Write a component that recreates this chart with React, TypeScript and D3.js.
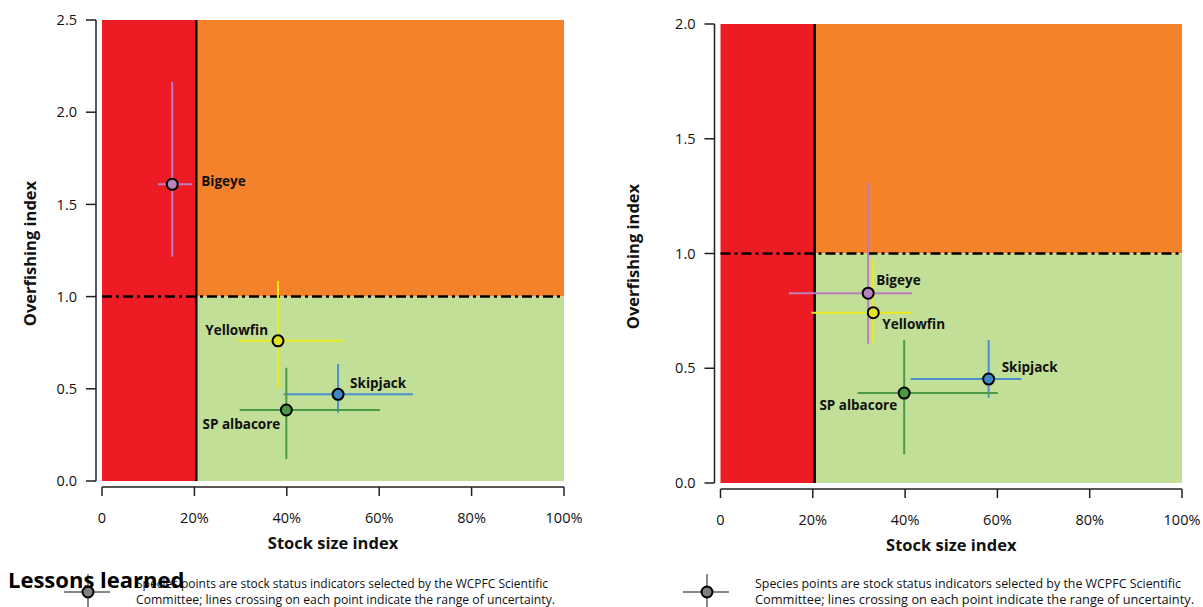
import React from "react";
import * as d3 from "d3";

const species = ["Bigeye", "Yellowfin", "Skipjack", "SP albacore"];
const speciesFill = ["#B784BD", "#E3E31F", "#3F86C9", "#4A9843"];
const speciesLine = ["#C07CBE", "#EDEA1C", "#4A8FD0", "#4C9A44"];

// Left panel
const leftX = [0.152, 0.381, 0.511, 0.399];
const leftY = [1.609, 0.76, 0.47, 0.385];
const leftXLo = [0.121, 0.294, 0.393, 0.298];
const leftXHi = [0.195, 0.522, 0.673, 0.602];
const leftYLo = [1.216, 0.506, 0.37, 0.119];
const leftYHi = [2.164, 1.085, 0.634, 0.614];
const leftYTicks = [0, 0.5, 1.0, 1.5, 2.0, 2.5];

// Right panel
const rightX = [0.32, 0.331, 0.581, 0.398];
const rightY = [0.827, 0.742, 0.453, 0.392];
const rightXLo = [0.148, 0.197, 0.412, 0.297];
const rightXHi = [0.415, 0.415, 0.652, 0.601];
const rightYLo = [0.607, 0.611, 0.372, 0.125];
const rightYHi = [1.31, 0.975, 0.623, 0.623];
const rightYTicks = [0, 0.5, 1.0, 1.5, 2.0];

const xTicks = [0, 0.2, 0.4, 0.6, 0.8, 1.0];
const xTickLabels = ["0", "20%", "40%", "60%", "80%", "100%"];
const limitX = 0.204;
const limitY = 1.0;

const legendLine1 = "Species points are stock status indicators selected by the WCPFC Scientific";
const legendLine2 = "Committee; lines crossing on each point indicate the range of uncertainty.";

const RED = "#ED1C24";
const ORANGE = "#F4822A";
const GREEN = "#C2DF98";
const AXIS = "#231F20";
const FONT = "'Open Sans', 'Noto Sans', sans-serif";

type LabelPos = { dx: number; dy: number; anchor: "start" | "end" };

const leftLabelPos: LabelPos[] = [
  { dx: 29, dy: -3, anchor: "start" },
  { dx: -10, dy: -11, anchor: "end" },
  { dx: 12, dy: -11, anchor: "start" },
  { dx: -6, dy: 14, anchor: "end" },
];
const rightLabelPos: LabelPos[] = [
  { dx: 8, dy: -13, anchor: "start" },
  { dx: 9, dy: 11, anchor: "start" },
  { dx: 13, dy: -12, anchor: "start" },
  { dx: -7, dy: 12, anchor: "end" },
];

type PanelProps = {
  x0: number; x1: number; yTop: number; yBot: number; yMax: number;
  yTicks: number[];
  px: number[]; py: number[]; xlo: number[]; xhi: number[]; ylo: number[]; yhi: number[];
  labels: LabelPos[];
  yTitleX: number; xTitleY: number;
};

function Panel(p: PanelProps) {
  const x = d3.scaleLinear().domain([0, 1]).range([p.x0, p.x1]);
  const y = d3.scaleLinear().domain([0, p.yMax]).range([p.yBot, p.yTop]);
  const yAxisX = p.x0 - 6;
  const xAxisY = p.yBot + 6;
  const fmt = d3.format(".1f");
  return (
    <g>
      <rect x={x(0)} y={y(p.yMax)} width={x(limitX) - x(0)} height={y(0) - y(p.yMax)} fill={RED} />
      <rect x={x(limitX)} y={y(p.yMax)} width={x(1) - x(limitX)} height={y(limitY) - y(p.yMax)} fill={ORANGE} />
      <rect x={x(limitX)} y={y(limitY)} width={x(1) - x(limitX)} height={y(0) - y(limitY)} fill={GREEN} />
      <line x1={x(limitX)} x2={x(limitX)} y1={y(p.yMax)} y2={y(0)} stroke="#000" strokeWidth={2.5} />
      <line x1={x(0)} x2={x(1)} y1={y(limitY)} y2={y(limitY)} stroke="#000" strokeWidth={2.5} strokeDasharray="10,4,3,4" />

      {species.map((s, i) => (
        <g key={s}>
          <line x1={x(p.xlo[i])} x2={x(p.xhi[i])} y1={y(p.py[i])} y2={y(p.py[i])} stroke={speciesLine[i]} strokeWidth={2} />
          <line x1={x(p.px[i])} x2={x(p.px[i])} y1={y(p.ylo[i])} y2={y(p.yhi[i])} stroke={speciesLine[i]} strokeWidth={2} />
        </g>
      ))}
      {species.map((s, i) => (
        <circle key={s} cx={x(p.px[i])} cy={y(p.py[i])} r={5.5} fill={speciesFill[i]} stroke="#000" strokeWidth={2} />
      ))}
      {species.map((s, i) => (
        <text key={s} x={x(p.px[i]) + p.labels[i].dx} y={y(p.py[i]) + p.labels[i].dy} dy="0.36em"
          textAnchor={p.labels[i].anchor} fontFamily={FONT} fontWeight={700} fontSize={13.5} fill="#111">{s}</text>
      ))}

      <line x1={yAxisX} x2={yAxisX} y1={y(p.yMax)} y2={y(0)} stroke={AXIS} strokeWidth={1.5} />
      {p.yTicks.map((t) => (
        <g key={t}>
          <line x1={yAxisX - 10} x2={yAxisX} y1={y(t)} y2={y(t)} stroke={AXIS} strokeWidth={1.5} />
          <text x={yAxisX - 19} y={y(t)} dy="0.36em" textAnchor="end" fontFamily={FONT} fontSize={14.5} fill="#111">{fmt(t)}</text>
        </g>
      ))}
      <line x1={x(0)} x2={x(1)} y1={xAxisY} y2={xAxisY} stroke={AXIS} strokeWidth={1.5} />
      {xTicks.map((t, i) => (
        <g key={t}>
          <line x1={x(t)} x2={x(t)} y1={xAxisY} y2={xAxisY + 9} stroke={AXIS} strokeWidth={1.5} />
          <text x={x(t)} y={xAxisY + 31} dy="0.36em" textAnchor="middle" fontFamily={FONT} fontSize={14.5} fill="#111">{xTickLabels[i]}</text>
        </g>
      ))}
      <text x={(x(0) + x(1)) / 2} y={p.xTitleY} textAnchor="middle" fontFamily={FONT} fontWeight={700} fontSize={16.5} fill="#111">Stock size index</text>
      <text transform={`translate(${p.yTitleX},${(y(0) + y(p.yMax)) / 2 + 3}) rotate(-90)`} textAnchor="middle"
        fontFamily={FONT} fontWeight={700} fontSize={16.5} fill="#111">Overfishing index</text>
    </g>
  );
}

function Legend({ cx, cy, tx, w1, w2 }: { cx: number; cy: number; tx: number; w1: number; w2: number }) {
  return (
    <g>
      <line x1={cx - 24} x2={cx + 22} y1={cy} y2={cy} stroke="#888" strokeWidth={2} />
      <line x1={cx} x2={cx} y1={cy - 18} y2={cy + 20} stroke="#888" strokeWidth={2} />
      <circle cx={cx} cy={cy} r={5.5} fill="#7F7F7F" stroke="#000" strokeWidth={2} />
      <text x={tx} y={588} fontFamily={FONT} fontSize={12.5} fill="#111" textLength={w1} lengthAdjust="spacingAndGlyphs">{legendLine1}</text>
      <text x={tx} y={604} fontFamily={FONT} fontSize={12.5} fill="#111" textLength={w2} lengthAdjust="spacingAndGlyphs">{legendLine2}</text>
    </g>
  );
}

export default function App() {
  return (
    <svg width={1203} height={607} style={{ position: "absolute", left: 0, top: 0, background: "#fff" }}>
      <Panel x0={102} x1={564} yTop={20} yBot={481} yMax={2.5} yTicks={leftYTicks}
        px={leftX} py={leftY} xlo={leftXLo} xhi={leftXHi} ylo={leftYLo} yhi={leftYHi}
        labels={leftLabelPos} yTitleX={36} xTitleY={549} />
      <Panel x0={720.5} x1={1182} yTop={24} yBot={483} yMax={2.0} yTicks={rightYTicks}
        px={rightX} py={rightY} xlo={rightXLo} xhi={rightXHi} ylo={rightYLo} yhi={rightYHi}
        labels={rightLabelPos} yTitleX={639} xTitleY={551} />
      <Legend cx={707} cy={592} tx={755} w1={426} w2={439} />
      <Legend cx={88} cy={592} tx={136} w1={412} w2={419} />
      <text x={8} y={588} fontFamily={FONT} fontWeight={700} fontSize={22} fill="#000">Lessons learned</text>
    </svg>
  );
}
